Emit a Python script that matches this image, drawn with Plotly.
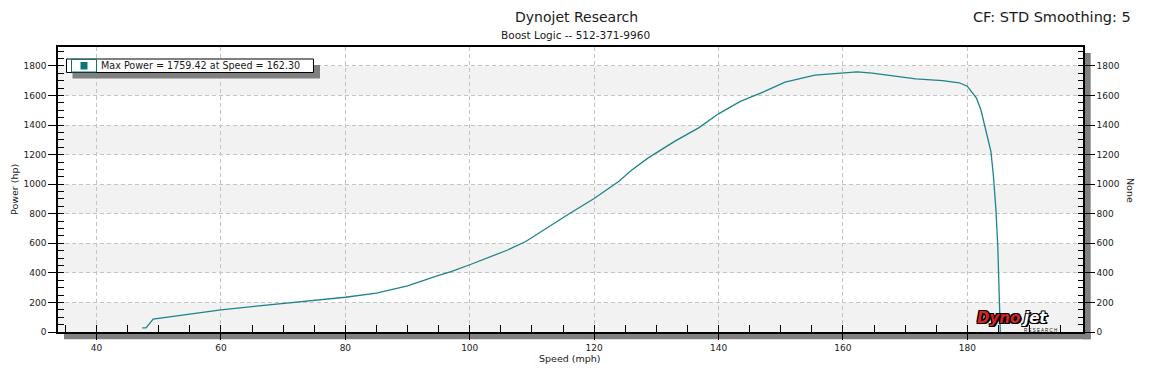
import plotly.graph_objects as go

# ---------------- data ----------------
speed = [47.35, 47.95, 49.1, 50.0, 51.3, 55.0, 60.0, 65.0, 70.0, 75.0, 80.0, 85.0, 90.0,
         95.0, 97.0, 100.0, 103.0, 106.0, 109.0, 111.5, 115.8, 120.0, 124.0, 126.0, 128.7,
         133.0, 136.8, 140.0, 143.5, 147.5, 150.7, 155.5, 159.8, 162.3, 164.7, 167.9,
         171.7, 176.0, 178.7, 180.0, 180.8, 181.5, 182.2, 182.8, 183.4, 183.8, 184.2,
         184.6, 184.9, 185.1, 185.3]
power = [28, 28, 88, 93, 100, 122, 150, 172, 192, 212, 235, 263, 312,
         383, 408, 455, 502, 553, 612, 680, 795, 903, 1020, 1095, 1178,
         1291, 1381, 1476, 1560, 1629, 1690, 1738, 1754, 1759.42, 1751, 1735,
         1713, 1700, 1686, 1663, 1620, 1580, 1500, 1400, 1300, 1220, 1054,
         829, 580, 310, 0]

x_tick_vals = [40, 60, 80, 100, 120, 140, 160, 180]
y_tick_vals = [0, 200, 400, 600, 800, 1000, 1200, 1400, 1600, 1800]

title_text = "Dynojet Research"
subtitle_text = "Boost Logic -- 512-371-9960"
corner_text = "CF: STD Smoothing: 5"
x_title = "Speed (mph)"
y_title = "Power (hp)"
y2_title = "None"

# ---------------- layout geometry (screen pixels) ----------------
OFF = 8                      # page body margin of the browser
W, H = 1152 - OFF, 386 - OFF
L, R, T, B = 58, 1083, 47, 332   # plot area on screen
X_RANGE = [33.8, 198.6]
Y_RANGE = [0, 1928]

LINE_COLOR = "#1f8389"
SWATCH_COLOR = "#0d7373"
SHADOW = "#808080"
BAND = "#f2f2f2"
GRID = "#c4c4c4"
FONT = "DejaVu Sans, Verdana, sans-serif"
TXT = "#1a1a1a"


def px(x):
    return (x - L) / (R - L)


def py(y):
    return (B - y) / (B - T)


imax = power.index(max(power))
legend_text = f"Max Power = {power[imax]:.2f} at Speed = {speed[imax]:.2f}"

fig = go.Figure()
fig.add_trace(go.Scatter(x=speed, y=power, mode="lines",
                         line=dict(color=LINE_COLOR, width=1.3),
                         name=legend_text, showlegend=False))
# invisible trace so the right-hand axis is drawn
fig.add_trace(go.Scatter(x=speed, y=power, mode="lines", yaxis="y2",
                         line=dict(color=LINE_COLOR, width=0), opacity=0,
                         hoverinfo="skip", showlegend=False))

shapes = []
# alternating background bands
for i in range(0, len(y_tick_vals) - 1, 2):
    shapes.append(dict(type="rect", xref="paper", yref="y", x0=0, x1=1,
                       y0=y_tick_vals[i], y1=y_tick_vals[i + 1],
                       fillcolor=BAND, line=dict(width=0), layer="below"))
# drop shadows of plot frame
shapes.append(dict(type="rect", xref="paper", yref="paper",
                   x0=px(64), x1=px(1090.7), y0=py(339.3), y1=py(332),
                   fillcolor=SHADOW, line=dict(width=0), layer="below"))
shapes.append(dict(type="rect", xref="paper", yref="paper",
                   x0=px(1083), x1=px(1090.7), y0=py(339.3), y1=py(53),
                   fillcolor=SHADOW, line=dict(width=0), layer="below"))
# legend box
shapes.append(dict(type="rect", xref="paper", yref="paper",
                   x0=px(72.5), x1=px(320), y0=py(78.5), y1=py(65),
                   fillcolor=SHADOW, line=dict(width=0), layer="above"))
shapes.append(dict(type="rect", xref="paper", yref="paper",
                   x0=px(66.5), x1=px(313.5), y0=py(72.5), y1=py(59),
                   fillcolor="white", line=dict(color="black", width=1), layer="above"))
shapes.append(dict(type="rect", xref="paper", yref="paper",
                   x0=px(71.5), x1=px(96.5), y0=py(72), y1=py(59.5),
                   fillcolor="rgba(0,0,0,0)", line=dict(color=SWATCH_COLOR, width=1), layer="above"))
shapes.append(dict(type="rect", xref="paper", yref="paper",
                   x0=px(80.5), x1=px(87.5), y0=py(69.5), y1=py(62),
                   fillcolor=SWATCH_COLOR, line=dict(width=0), layer="above"))

outline = "1px 1px 0 #000, -1px -1px 0 #000, 1px -1px 0 #000, -1px 1px 0 #000, 2px 1px 0 #000"
annotations = [
    dict(text=title_text, xref="paper", yref="paper", x=px(576), y=py(17),
         xanchor="center", yanchor="middle", showarrow=False,
         font=dict(family=FONT, size=14, color=TXT)),
    dict(text=subtitle_text, xref="paper", yref="paper", x=px(575), y=py(35),
         xanchor="center", yanchor="middle", showarrow=False,
         font=dict(family=FONT, size=10.5, color=TXT)),
    dict(text=corner_text, xref="paper", yref="paper", x=px(1133), y=py(17),
         xanchor="right", yanchor="middle", showarrow=False,
         font=dict(family=FONT, size=14.5, color=TXT)),
    dict(text=legend_text, xref="paper", yref="paper", x=px(99), y=py(65.7),
         xanchor="left", yanchor="middle", showarrow=False,
         font=dict(family=FONT, size=9.6, color=TXT)),
    dict(text=y2_title, xref="paper", yref="paper", x=px(1131), y=py(190),
         xanchor="center", yanchor="middle", showarrow=False, textangle=90,
         font=dict(family=FONT, size=9.5, color=TXT)),
    dict(text=x_title, xref="paper", yref="paper", x=px(570), y=py(358),
         xanchor="center", yanchor="middle", showarrow=False,
         font=dict(family=FONT, size=9.5, color=TXT)),
    dict(text=y_title, xref="paper", yref="paper", x=px(14), y=py(190),
         xanchor="center", yanchor="middle", showarrow=False, textangle=-90,
         font=dict(family=FONT, size=9.5, color=TXT)),
    # logo
    dict(text="<b><i>Dyno</i></b>", xref="paper", yref="paper", x=px(975), y=py(318),
         xanchor="left", yanchor="middle", showarrow=False,
         font=dict(family="DejaVu Sans", size=15, color="#d42323", shadow=outline)),
    dict(text="<b><i>jet</i></b>", xref="paper", yref="paper", x=px(1020), y=py(318),
         xanchor="left", yanchor="middle", showarrow=False,
         font=dict(family="DejaVu Sans", size=15, color="#ffffff", shadow=outline)),
    dict(text="R E S E A R C H", xref="paper", yref="paper", x=px(1040), y=py(330.5),
         xanchor="center", yanchor="middle", showarrow=False,
         font=dict(family="Liberation Sans", size=4.5, color="#111")),
]

axis_font = dict(family=FONT, size=9, color=TXT)

fig.update_layout(
    width=W, height=H,
    margin=dict(l=L - OFF, r=W - (R - OFF), t=T - OFF, b=H - (B - OFF), pad=0,
                autoexpand=False),
    paper_bgcolor="white", plot_bgcolor="white",
    showlegend=False,
    shapes=shapes, annotations=annotations,
    xaxis=dict(range=X_RANGE, tickmode="array", tickvals=x_tick_vals,
               automargin=False,
               showgrid=True, gridcolor=GRID, griddash="4px,3px", gridwidth=1,
               zeroline=False, showline=True, linecolor="black", linewidth=1.5,
               mirror=True, ticks="outside", ticklen=6, tickcolor="black",
               tickfont=axis_font,
               minor=dict(dtick=5, tick0=0, ticks="inside", ticklen=7,
                          tickcolor="black", showgrid=False)),
    yaxis=dict(range=Y_RANGE, tickmode="array", tickvals=y_tick_vals,
               automargin=False,
               showgrid=True, gridcolor=GRID, griddash="4px,3px", gridwidth=1,
               zeroline=False, showline=True, linecolor="black", linewidth=1.5,
               ticks="outside", ticklen=8, tickcolor="black", tickfont=axis_font,
               minor=dict(dtick=50, tick0=0, ticks="inside", ticklen=6,
                          tickcolor="black", showgrid=False)),
    yaxis2=dict(range=Y_RANGE, overlaying="y", side="right", tickmode="array",
                automargin=False,
                tickvals=y_tick_vals, showgrid=False, zeroline=False,
                showline=True, linecolor="black", linewidth=1.5,
                ticks="outside", ticklen=10, tickcolor="black", tickfont=axis_font,
                minor=dict(dtick=50, tick0=0, ticks="inside", ticklen=5,
                           tickcolor="black", showgrid=False)),
)

fig.write_html("out.html")
